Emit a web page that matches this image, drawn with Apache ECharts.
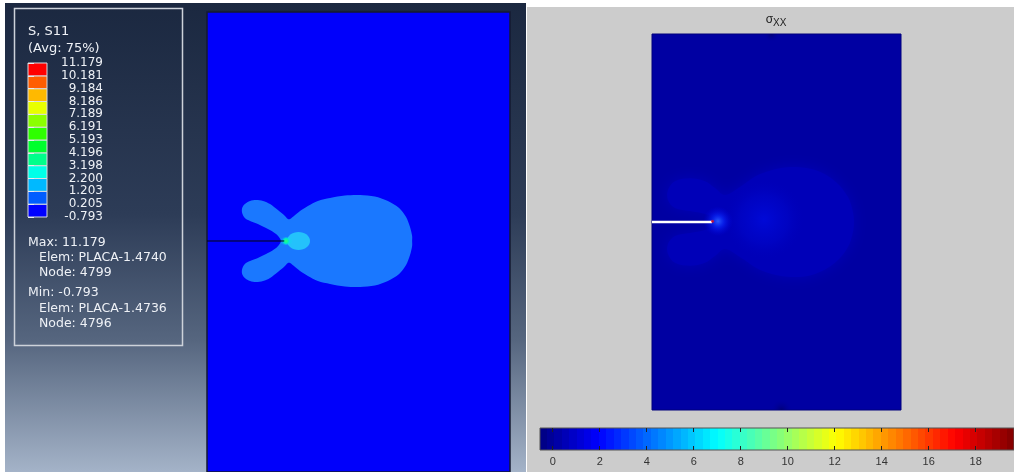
<!DOCTYPE html>
<html><head><meta charset="utf-8">
<script src="https://cdn.jsdelivr.net/npm/echarts@6/dist/echarts.min.js"></script>
<style>html,body{margin:0;padding:0;background:#fff;}#c{width:1014px;height:472px;}</style>
</head><body><div id="c"></div>
<script>
// ---- Abaqus legend (S, S11) ----
const legendTitle = ['S, S11', '(Avg: 75%)'];
const legendLabels = ['11.179','10.181','9.184','8.186','7.189','6.191','5.193','4.196','3.198','2.200','1.203','0.205','-0.793']; // top -> bottom
const legendColors = ['#0000ff','#005dff','#00b9ff','#00ffe8','#00ff8b','#00ff2e','#2eff00','#8bff00','#e8ff00','#ffb900','#ff5d00','#ff0000']; // bottom -> top
const maxInfo = ['Max: 11.179', 'Elem: PLACA-1.4740', 'Node: 4799'];
const minInfo = ['Min: -0.793', 'Elem: PLACA-1.4736', 'Node: 4796'];

// ---- Left plate (plate units: x 0..100, y 0..150) ----
const leftCrack = [[0, 75.33], [25.5, 75.33]];
const leftOutline = [
  [24.4,75.66],[22.8,77.61],[20.1,79.25],[16.8,80.88],[14.2,81.86],[12.5,82.83],[11.6,84.46],[11.6,86.09],[12.5,87.40],
  [14.2,88.38],[16.2,88.70],[18.5,88.38],[20.8,87.40],[23.4,85.44],[25.4,83.81],[26.7,82.51],[27.4,82.51],[28.7,83.49],
  [30.7,85.12],[33.3,86.75],[36.6,88.38],[40.6,89.35],[45.5,90.17],[50.5,90.33],[55.4,89.84],[59.7,88.38],[63.4,86.09],
  [65.7,83.16],[67.0,79.90],[67.7,76.96],[67.7,75.33],
  [67.7,73.70],[67.0,70.76],[65.7,67.50],[63.4,64.57],[59.7,62.28],[55.4,60.82],[50.5,60.33],[45.5,60.49],[40.6,61.31],
  [36.6,62.28],[33.3,63.91],[30.7,65.54],[28.7,67.17],[27.4,68.15],[26.7,68.15],[25.4,66.85],[23.4,65.22],[20.8,63.26],
  [18.5,62.28],[16.2,61.96],[14.2,62.28],[12.5,63.26],[11.6,64.57],[11.6,66.20],[12.5,67.83],[14.2,68.80],[16.8,69.78],
  [20.1,71.41],[22.8,73.05],[24.4,75.0]
];
const leftHotZone = [30.2, 75.33, 3.8, 2.9];   // cx, cy, rx, ry
const leftTipZone = [26.1, 75.33, 2.0, 1.3];

// ---- Right plate (same plate units) ----
const rightCrack = [[0, 75], [24.1, 75]];
const rightTip = [[24.3, 75.3]];
const rightOutline = [
  [26.5,76.2],[21.3,78.2],[15.3,79.4],[9.2,80.6],[6.4,83.8],[6.4,87.8],[9.2,91.3],[15.3,92.5],[21.3,91.3],
  [25.3,88.6],[29.3,85.8],[35.3,89.0],[43.4,94.1],[55.4,96.9],[65.5,95.7],[73.5,91.3],[78.7,85.0],[80.7,79.0],[81.1,75.0],
  [80.7,71.0],[78.7,65.0],[73.5,58.7],[65.5,54.3],[55.4,53.1],[43.4,55.9],[35.3,61.0],[29.3,64.2],[25.3,61.4],
  [21.3,58.7],[15.3,57.5],[9.2,58.7],[6.4,62.2],[6.4,66.2],[9.2,69.4],[15.3,70.6],[21.3,71.8],[26.5,73.8]
];
const rightBodyCore = [45, 76, 20, 16];
const rightTipGlow = [26.5, 75.3, 6, 6];
const rightEdgeShades = [[48, 150, 11, 3], [52, 0, 12, 4]];

// ---- MATLAB colorbar ----
const colorbarRange = [-0.54, 19.63];
const colorbarTicks = [0, 2, 4, 6, 8, 10, 12, 14, 16, 18];
const colorbarLevels = 64;

function jet(t) {
  const c = v => Math.round(255 * Math.max(0, Math.min(1, v)));
  return 'rgb(' + c(1.5 - Math.abs(4 * t - 3)) + ',' + c(1.5 - Math.abs(4 * t - 2)) + ',' + c(1.5 - Math.abs(4 * t - 1)) + ')';
}
const jetStops = [];
for (let i = 0; i < colorbarLevels; i++) {
  const col = jet((i + 0.5) / colorbarLevels);
  jetStops.push({ offset: i / colorbarLevels, color: col }, { offset: (i + 1) / colorbarLevels, color: col });
}

const chart = echarts.init(document.getElementById('c'), null, { renderer: 'canvas' });

function polyItem(points, style, smooth) {
  return function (params, api) {
    if (params.dataIndex !== 0) return null;
    return { type: 'polygon', shape: { points: points.map(p => api.coord(p)), smooth: smooth }, style: style };
  };
}
function ellipseItem(z, fill) {
  return function (params, api) {
    const c = api.coord([z[0], z[1]]);
    const s = api.size([z[2], z[3]]);
    return { type: 'ellipse', shape: { cx: c[0], cy: c[1], rx: s[0], ry: s[1] }, style: { fill: fill } };
  };
}
function radial(stops) { return { type: 'radial', x: 0.5, y: 0.5, r: 0.5, colorStops: stops }; }

const txt = (x, y, t, size, extra) => Object.assign({
  type: 'text', x: x, y: y, z: 50,
  style: { text: t, fill: '#eef1f6', font: size + 'px "DejaVu Sans"', textVerticalAlign: 'middle', verticalAlign: 'middle' }
}, extra || {});

const hidden = { show: false };

const option = {
  animation: false,
  graphic: [
    { type: 'rect', z: -20, shape: { x: 5, y: 3, width: 521, height: 469 },
      style: { fill: { type: 'linear', x: 0, y: 0, x2: 0, y2: 1, colorStops: [
        { offset: 0, color: '#1b2840' }, { offset: 0.45, color: '#2d3c57' }, { offset: 0.72, color: '#56667f' }, { offset: 1, color: '#a4b3c8' }] } } },
    { type: 'rect', z: -20, shape: { x: 527, y: 7, width: 487, height: 465 }, style: { fill: '#cccccc' } },
    { type: 'rect', z: 40, shape: { x: 14.5, y: 8.5, width: 168, height: 337 }, style: { fill: 'none', stroke: '#cdd2da', lineWidth: 1.5 } },
    txt(28, 32, legendTitle[0], 13),
    txt(28, 49, legendTitle[1], 13),
    txt(28, 243, maxInfo[0], 12.5),
    txt(39, 258, maxInfo[1], 12.5),
    txt(39, 273, maxInfo[2], 12.5),
    txt(28, 293, minInfo[0], 12.5),
    txt(39, 309, minInfo[1], 12.5),
    txt(39, 324, minInfo[2], 12.5),
    { type: 'text', x: 776, y: 20, z: 50, style: {
      text: '{s|σ}{x|XX}', align: 'center', verticalAlign: 'middle', textVerticalAlign: 'middle',
      rich: { s: { fontSize: 12, fontFamily: 'Liberation Sans', fill: '#222', color: '#222' },
              x: { fontSize: 10, fontFamily: 'Liberation Sans', fill: '#222', color: '#222', padding: [7, 0, 0, 0] } } } }
  ],
  grid: [
    { left: 207, top: 12, width: 303, height: 460, show: true, backgroundColor: '#0000fb', borderColor: '#141a30', borderWidth: 1.5 },
    { left: 28, top: 63, width: 19, height: 154 },
    { left: 652, top: 34, width: 249, height: 376, show: true, backgroundColor: '#0000a2', borderColor: '#00007c', borderWidth: 1 },
    { left: 552.7, top: 428, width: 423, height: 22 }
  ],
  xAxis: [
    { gridIndex: 0, type: 'value', min: 0, max: 100, show: false },
    { gridIndex: 1, type: 'value', min: 0, max: 1, show: false },
    { gridIndex: 2, type: 'value', min: 0, max: 100, show: false },
    { gridIndex: 3, type: 'value', min: 0, max: 18, interval: 2, position: 'bottom', z: 10,
      axisLine: hidden, splitLine: hidden,
      axisTick: { show: true, inside: true, length: 4, lineStyle: { color: '#222', width: 1 } },
      axisLabel: { margin: 6, fontSize: 11, fontFamily: 'Liberation Sans', color: '#333' } },
    { gridIndex: 3, type: 'value', min: 0, max: 18, interval: 2, position: 'top', z: 10,
      axisLine: hidden, splitLine: hidden, axisLabel: hidden,
      axisTick: { show: true, inside: true, length: 4, lineStyle: { color: '#222', width: 1 } } }
  ],
  yAxis: [
    { gridIndex: 0, type: 'value', min: 0, max: 150, show: false },
    { gridIndex: 1, type: 'value', min: 0, max: 12, interval: 1, position: 'right', z: 10,
      axisLine: hidden, splitLine: hidden,
      axisTick: { show: true, length: 6, lineStyle: { color: '#e8eaee', width: 1 } },
      axisLabel: { align: 'right', margin: 56, fontSize: 12, fontFamily: 'DejaVu Sans', color: '#eef1f6',
        formatter: v => legendLabels[12 - v] } },
    { gridIndex: 2, type: 'value', min: 0, max: 150, show: false },
    { gridIndex: 3, type: 'value', min: 0, max: 1, show: false }
  ],
  series: [
    // left plate contours
    { type: 'custom', xAxisIndex: 0, yAxisIndex: 0, clip: true, data: leftOutline,
      renderItem: polyItem(leftOutline, { fill: '#1a78ff' }, 0.3) },
    { type: 'custom', xAxisIndex: 0, yAxisIndex: 0, clip: true, data: [leftHotZone],
      renderItem: ellipseItem(leftHotZone, '#24c2fb') },
    { type: 'custom', xAxisIndex: 0, yAxisIndex: 0, clip: true, data: [leftTipZone],
      renderItem: ellipseItem(leftTipZone, radial([{ offset: 0, color: '#30ff70' }, { offset: 0.6, color: '#00f0c0' }, { offset: 1, color: 'rgba(0,230,230,0.2)' }])) },
    { type: 'line', xAxisIndex: 0, yAxisIndex: 0, data: leftCrack, symbol: 'none', z: 5,
      lineStyle: { color: '#05050a', width: 1 } },
    // legend cells
    { type: 'custom', xAxisIndex: 1, yAxisIndex: 1, data: legendColors.map((c, i) => [i]),
      renderItem: function (params, api) {
        const i = api.value(0);
        const p0 = api.coord([0, i + 1]);
        const p1 = api.coord([1, i]);
        return { type: 'rect', shape: { x: p0[0], y: p0[1], width: p1[0] - p0[0], height: p1[1] - p0[1] },
          style: { fill: legendColors[i], stroke: '#d8dbe0', lineWidth: 1 } };
      } },
    // right plate contours
    { type: 'custom', xAxisIndex: 2, yAxisIndex: 2, clip: true, data: rightOutline,
      renderItem: polyItem(rightOutline, { fill: '#0000b8', shadowBlur: 14, shadowColor: '#0000b8' }, 0.35) },
    { type: 'custom', xAxisIndex: 2, yAxisIndex: 2, clip: true, data: [rightBodyCore],
      renderItem: ellipseItem(rightBodyCore, radial([{ offset: 0, color: 'rgba(0,12,225,0.75)' }, { offset: 0.6, color: 'rgba(0,8,210,0.4)' }, { offset: 1, color: 'rgba(0,0,190,0)' }])) },
    { type: 'custom', xAxisIndex: 2, yAxisIndex: 2, clip: true, data: rightEdgeShades,
      renderItem: function (params, api) {
        const z = rightEdgeShades[params.dataIndex];
        const c = api.coord([z[0], z[1]]);
        const s = api.size([z[2], z[3]]);
        return { type: 'ellipse', shape: { cx: c[0], cy: c[1], rx: s[0], ry: s[1] },
          style: { fill: radial([{ offset: 0, color: 'rgba(0,0,110,0.8)' }, { offset: 1, color: 'rgba(0,0,150,0)' }]) } };
      } },
    { type: 'custom', xAxisIndex: 2, yAxisIndex: 2, clip: true, data: [rightTipGlow],
      renderItem: ellipseItem(rightTipGlow, radial([{ offset: 0, color: 'rgba(40,90,255,1)' }, { offset: 0.4, color: 'rgba(10,40,250,0.7)' }, { offset: 1, color: 'rgba(0,0,220,0)' }])) },
    { type: 'line', xAxisIndex: 2, yAxisIndex: 2, data: rightCrack, symbol: 'none', z: 5,
      lineStyle: { color: '#ffffff', width: 2.5 } },
    { type: 'scatter', xAxisIndex: 2, yAxisIndex: 2, data: rightTip, symbolSize: 3, z: 6,
      itemStyle: { color: '#e01020' } },
    // colorbar
    { type: 'custom', xAxisIndex: 3, yAxisIndex: 3, data: [colorbarRange],
      renderItem: function (params, api) {
        const p0 = api.coord([colorbarRange[0], 1]);
        const p1 = api.coord([colorbarRange[1], 0]);
        return { type: 'rect', shape: { x: p0[0], y: p0[1], width: p1[0] - p0[0], height: p1[1] - p0[1] },
          style: { fill: { type: 'linear', x: 0, y: 0, x2: 1, y2: 0, colorStops: jetStops }, stroke: '#555', lineWidth: 1 } };
      } }
  ]
};
chart.setOption(option);
</script></body></html>
